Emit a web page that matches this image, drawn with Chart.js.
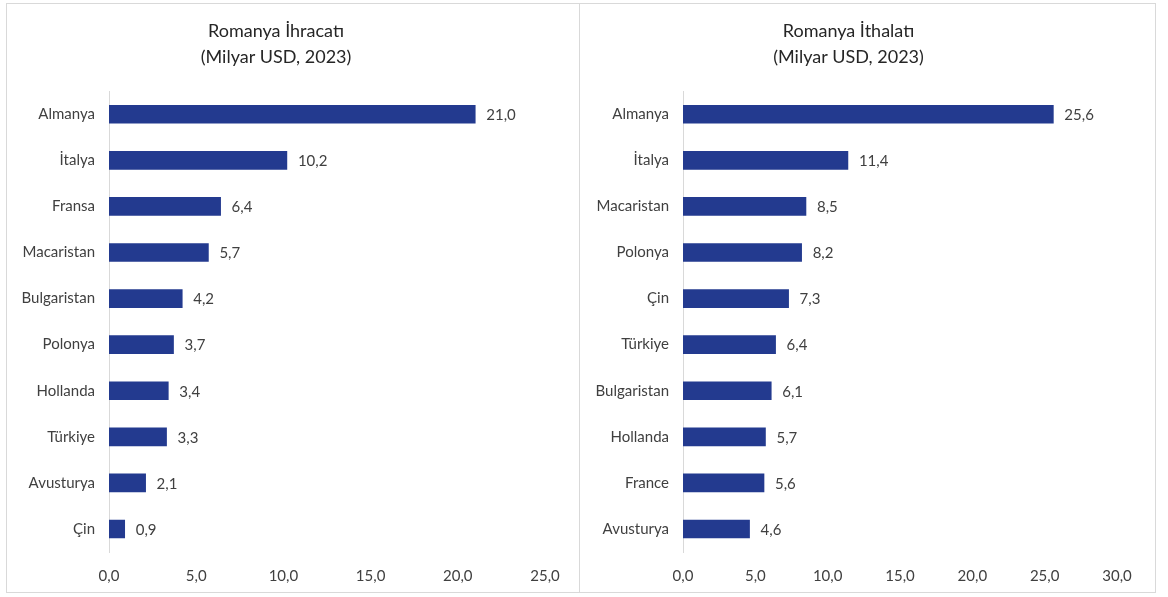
<!DOCTYPE html>
<html>
<head>
<meta charset="utf-8">
<script src="https://cdn.jsdelivr.net/npm/chart.js@4.4.1/dist/chart.umd.min.js"></script>
<style>
	body { margin: 0; background: #fff; width: 1168px; height: 597px; position: relative; overflow: hidden; }
	.panel { position: absolute; border: 1px solid #d9d9d9; box-sizing: border-box; background: #fff; }
	#panelIhracat { left: 6px; top: 3px; width: 574px; height: 590px; }
	#panelIthalat { left: 579px; top: 3px; width: 577px; height: 590px; }
	canvas { display: block; }
</style>
</head>
<body>
<div class="panel" id="panelIhracat"><canvas id="graficoIhracat" width="572" height="588"></canvas></div>
<div class="panel" id="panelIthalat"><canvas id="graficoIthalat" width="575" height="588"></canvas></div>
<script>
// Dados
var ulkelerIhracat = ["Almanya", "İtalya", "Fransa", "Macaristan", "Bulgaristan", "Polonya", "Hollanda", "Türkiye", "Avusturya", "Çin"];
var degerlerIhracat = [21.0, 10.2, 6.4, 5.7, 4.2, 3.7, 3.4, 3.3, 2.1, 0.9];

var ulkelerIthalat = ["Almanya", "İtalya", "Macaristan", "Polonya", "Çin", "Türkiye", "Bulgaristan", "Hollanda", "France", "Avusturya"];
var degerlerIthalat = [25.6, 11.4, 8.5, 8.2, 7.3, 6.4, 6.1, 5.7, 5.6, 4.6];

var tituloIhracat = ["Romanya İhracatı", "(Milyar USD, 2023)"];
var tituloIthalat = ["Romanya İthalatı", "(Milyar USD, 2023)"];

var corBarra = "#233a8f";
var corTexto = "#404040";
var fonte = "Lato, 'Open Sans', sans-serif";

function formatar(v) {
	return Number(v).toFixed(1).replace(".", ",");
}

// Plugin para escrever o valor ao lado da barra
var rotulos = {
	id: "rotulos",
	afterDatasetsDraw: function (chart) {
		var ctx = chart.ctx;
		var meta = chart.getDatasetMeta(0);
		ctx.save();
		ctx.font = "15px " + fonte;
		ctx.fillStyle = corTexto;
		ctx.textAlign = "left";
		ctx.textBaseline = "middle";
		meta.data.forEach(function (barra, i) {
			ctx.fillText(formatar(chart.data.datasets[0].data[i]), barra.x + 11, barra.y + 1);
		});
		ctx.restore();
	},
};

function criarGrafico(id, labels, valores, titulo, maximo, larguraY, direita) {
	return new Chart(document.getElementById(id), {
		type: "bar",
		data: {
			labels: labels,
			datasets: [
				{
					data: valores,
					backgroundColor: corBarra,
					borderWidth: 0,
					barThickness: 18,
				},
			],
		},
		options: {
			indexAxis: "y",
			responsive: false,
			animation: false,
			layout: { padding: { left: 0, right: direita, top: 0, bottom: 0 } },
			plugins: {
				legend: { display: false },
				tooltip: { enabled: false },
				title: {
					display: true,
					text: titulo,
					color: "#262626",
					font: { family: fonte, size: 18, weight: "normal", lineHeight: 1.45 },
					padding: { top: 14, bottom: 21 },
				},
			},
			scales: {
				x: {
					min: 0,
					max: maximo,
					grid: { display: false, drawTicks: false },
					border: { display: false },
					ticks: {
						stepSize: 5,
						padding: 15,
						color: corTexto,
						font: { family: fonte, size: 15 },
						callback: function (v) { return formatar(v); },
					},
					afterFit: function (s) { s.height = 40; },
				},
				y: {
					grid: { display: false, drawTicks: false },
					border: { display: true, color: "#d9d9d9", width: 1 },
					ticks: {
						padding: 14,
						color: corTexto,
						font: { family: fonte, size: 15 },
					},
					afterFit: function (s) { s.width = larguraY; },
				},
			},
		},
		plugins: [rotulos],
	});
}

criarGrafico("graficoIhracat", ulkelerIhracat, degerlerIhracat, tituloIhracat, 25, 102, 34);
criarGrafico("graficoIthalat", ulkelerIthalat, degerlerIthalat, tituloIthalat, 30, 103, 38);
</script>
</body>
</html>
